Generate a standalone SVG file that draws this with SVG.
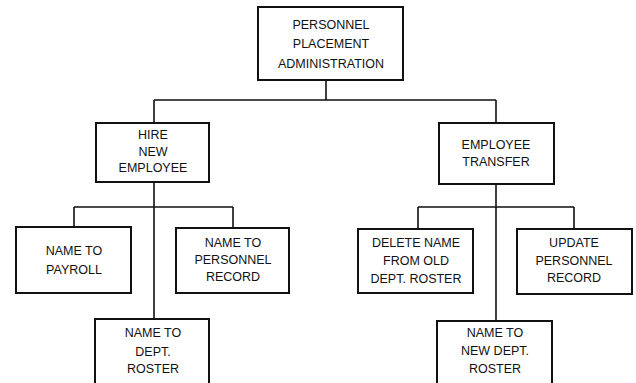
<svg xmlns="http://www.w3.org/2000/svg" width="636" height="383" viewBox="0 0 636 383">
<style>
.box{fill:#fff;stroke:#111;stroke-width:2}
.ln{fill:none;stroke:#111;stroke-width:1.6}
text{font-family:"Liberation Sans",Arial,sans-serif;font-size:12.5px;fill:#111;text-anchor:middle}
</style>
<rect width="636" height="383" fill="#fff"/>
<g id="connectors">
<path class="ln" d="M326 80V100M154 100H496M154 100V123M496 100V123"/>
<path class="ln" d="M154 182V319M74 207H233M74 207V227M233 207V228"/>
<path class="ln" d="M496 184V321M418 207H574M418 207V229M574 207V229"/>
</g>
<g id="n-admin">
<rect class="box" x="258" y="7" width="145" height="73"/>
<text x="331" y="29">PERSONNEL</text>
<text x="331" y="48">PLACEMENT</text>
<text x="331" y="68">ADMINISTRATION</text>
</g>
<g id="n-hire">
<rect class="box" x="96" y="123" width="113" height="59"/>
<text x="153" y="139">HIRE</text>
<text x="153" y="156">NEW</text>
<text x="153" y="172">EMPLOYEE</text>
</g>
<g id="n-transfer">
<rect class="box" x="439" y="123" width="115" height="61"/>
<text x="496" y="149">EMPLOYEE</text>
<text x="496" y="166">TRANSFER</text>
</g>
<g id="n-payroll">
<rect class="box" x="16" y="227" width="115" height="66"/>
<text x="74" y="255">NAME TO</text>
<text x="74" y="274">PAYROLL</text>
</g>
<g id="n-personnel-record">
<rect class="box" x="176" y="228" width="113" height="65"/>
<text x="233" y="247">NAME TO</text>
<text x="233" y="264">PERSONNEL</text>
<text x="233" y="281">RECORD</text>
</g>
<g id="n-dept-roster">
<rect class="box" x="95" y="319" width="114" height="80"/>
<text x="153" y="337">NAME TO</text>
<text x="153" y="356">DEPT.</text>
<text x="153" y="373">ROSTER</text>
</g>
<g id="n-delete">
<rect class="box" x="358" y="229" width="115" height="64"/>
<text x="416" y="247">DELETE NAME</text>
<text x="416" y="265">FROM OLD</text>
<text x="416" y="283">DEPT. ROSTER</text>
</g>
<g id="n-update">
<rect class="box" x="517" y="229" width="115" height="65"/>
<text x="574" y="247">UPDATE</text>
<text x="574" y="265">PERSONNEL</text>
<text x="574" y="282">RECORD</text>
</g>
<g id="n-new-dept">
<rect class="box" x="437" y="321" width="115" height="80"/>
<text x="495" y="337">NAME TO</text>
<text x="495" y="355">NEW DEPT.</text>
<text x="495" y="373">ROSTER</text>
</g>
</svg>
